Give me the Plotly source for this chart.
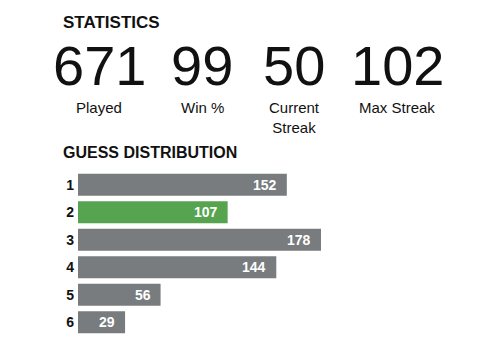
import plotly.graph_objects as go

# Data
stat_values = ["671", "99", "50", "102"]
stat_labels = ["Played", "Win %", "Current<br>Streak", "Max Streak"]
guesses = ["1", "2", "3", "4", "5", "6"]
counts = [152, 107, 178, 144, 56, 29]
highlight = "2"

OFF = 8  # page body margin
W, H = 482 - OFF, 362 - OFF
L, T = 78 - OFF, 171 - OFF
plotW = 272
plotH = 165
R = W - L - plotW
B = H - T - plotH

GRAY = "#787c7e"
GREEN = "#56a350"
BASE = -6.8  # small visual padding so tiny bars still show

def px(x):
    return (x - OFF - L) / plotW

def py(y):
    return 1 - (y - OFF - T) / plotH

colors = [GREEN if g == highlight else GRAY for g in guesses]

fig = go.Figure()
fig.add_trace(go.Bar(
    y=guesses,
    x=[c - BASE for c in counts],
    base=BASE,
    orientation="h",
    marker=dict(color=colors, line=dict(width=0)),
    hoverinfo="skip",
))

ann = []
for i, c in enumerate(counts):
    ann.append(dict(x=c, y=i, xref="x", yref="y", text=f"<b>{c}</b>",
                    showarrow=False, xanchor="right", yanchor="middle", xshift=-8,
                    font=dict(family="Liberation Sans, Arial", size=14, color="white")))

ann.append(dict(x=px(61), y=py(22), xref="paper", yref="paper", text="<b>STATISTICS</b>",
                showarrow=False, xanchor="left", yanchor="middle",
                font=dict(family="Liberation Sans, Arial", size=17, color="#111")))
ann.append(dict(x=px(61), y=py(152), xref="paper", yref="paper", text="<b>GUESS DISTRIBUTION</b>",
                showarrow=False, xanchor="left", yanchor="middle",
                font=dict(family="Liberation Sans, Arial", size=16, color="#111")))

centers = [99, 202, 294, 397]
for v, lab, cx in zip(stat_values, stat_labels, centers):
    ann.append(dict(x=px(cx), y=py(98), xref="paper", yref="paper", text=v,
                    showarrow=False, xanchor="center", yanchor="bottom", borderpad=0,
                    font=dict(family="Liberation Sans, Arial", size=56, color="#111")))
    ann.append(dict(x=px(cx), y=py(98), xref="paper", yref="paper", text=lab,
                    showarrow=False, xanchor="center", yanchor="top", borderpad=0,
                    font=dict(family="Liberation Sans, Arial", size=15, color="#111")))

fig.update_layout(
    width=W, height=H,
    margin=dict(l=L, r=R, t=T, b=B, pad=0),
    paper_bgcolor="white", plot_bgcolor="white",
    showlegend=False,
    bargap=0.2,
    annotations=ann,
    xaxis=dict(range=[BASE, (plotW / 1.315) + BASE], visible=False, fixedrange=True),
    yaxis=dict(
        type="category",
        autorange=False, range=[5.5, -0.5],
        tickmode="array", tickvals=guesses, ticktext=[f"<b>{g}</b>" for g in guesses],
        tickfont=dict(family="Liberation Sans, Arial", size=14, color="#111"),
        showgrid=False, zeroline=False, showline=False, ticks="",
        ticklabelstandoff=3, fixedrange=True,
    ),
)

fig.write_html("out.html")
